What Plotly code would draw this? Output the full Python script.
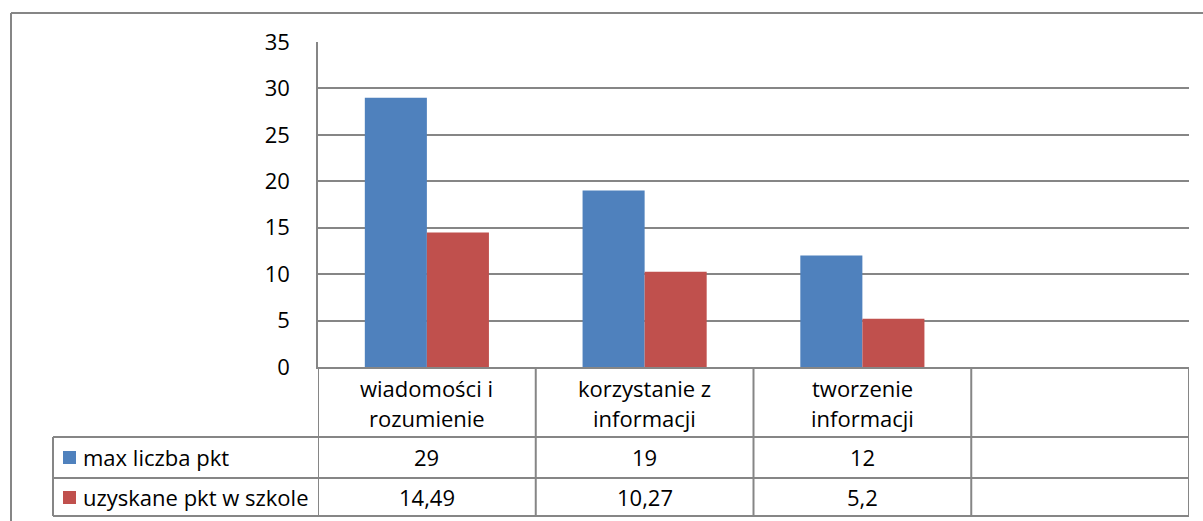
import plotly.graph_objects as go

# ---- data ----
categories = ["wiadomości i<br>rozumienie", "korzystanie z<br>informacji", "tworzenie<br>informacji", ""]
series_names = ["max liczba pkt", "uzyskane pkt w szkole"]
max_pts = [29, 19, 12]
school_pts = [14.49, 10.27, 5.2]
colors = ["#4F81BD", "#C0504D"]
y_ticks = [0, 5, 10, 15, 20, 25, 30, 35]

W, H = 1203, 521
PL, PR, PT, PB = 318, 1189, 42, 367  # plot area in pixels
GRID = "#868686"
FONT = "Open Sans"
FS = 22


def px(p):
    return (p - PL) / (PR - PL)


def py(p):
    return (PB - p) / (PB - PT)


xs = list(range(len(categories)))

fig = go.Figure()
for name, vals, col in zip(series_names, [max_pts, school_pts], colors):
    fig.add_trace(go.Bar(x=xs[:len(vals)], y=vals, name=name, marker=dict(color=col, line=dict(width=0)),
                         showlegend=False, hoverinfo="y"))

fig.update_layout(
    width=W, height=H,
    margin=dict(l=PL, r=W - PR, t=PT, b=H - PB, pad=0),
    paper_bgcolor="white", plot_bgcolor="white",
    barmode="group", bargap=0.43, bargroupgap=0,
    font=dict(family=FONT, size=FS, color="black"),
    xaxis=dict(range=[-0.5, len(categories) - 0.5], showticklabels=False, showgrid=False,
               zeroline=False, showline=True, linecolor=GRID, linewidth=2, ticks=""),
    yaxis=dict(range=[0, 35], tickvals=y_ticks, showgrid=True, gridcolor=GRID, gridwidth=1.5,
               zeroline=False, showline=True, linecolor=GRID, linewidth=1.5, ticks="",
               ticklabelstandoff=22, tickfont=dict(family=FONT, size=FS, color="black")),
)

shapes = []
line = dict(color=GRID, width=2)
# outer chart border (left and top visible)
shapes.append(dict(type="line", xref="paper", yref="paper", x0=px(11), x1=px(11), y0=py(H + 2), y1=py(13), line=line))
shapes.append(dict(type="line", xref="paper", yref="paper", x0=px(11), x1=px(W + 2), y0=py(13), y1=py(13), line=line))

# data table
row_lines = [437, 478, 516]
for i in range(len(categories) + 1):
    shapes.append(dict(type="line", xref="x", yref="paper", x0=i - 0.5, x1=i - 0.5,
                       y0=py(PB), y1=py(row_lines[-1]), line=line))
shapes.append(dict(type="line", xref="paper", yref="paper", x0=px(53), x1=px(53),
                   y0=py(row_lines[0]), y1=py(row_lines[-1]), line=line))
for r in row_lines:
    shapes.append(dict(type="line", xref="paper", yref="paper", x0=px(53), x1=1,
                       y0=py(r), y1=py(r), line=line))

annotations = []
# header labels
for i, cat in enumerate(categories):
    for j, part in enumerate(cat.split("<br>") if cat else []):
        annotations.append(dict(x=i, y=py(388 + 30 * j), xref="x", yref="paper", text=part,
                                showarrow=False, xanchor="center", yanchor="middle",
                                font=dict(family=FONT, size=FS, color="black")))

row_centers = [457, 497]
for name, vals, col, yc in zip(series_names, [max_pts, school_pts], colors, row_centers):
    shapes.append(dict(type="rect", xref="paper", yref="paper", x0=px(63), x1=px(76),
                       y0=py(yc + 7), y1=py(yc - 6), fillcolor=col, line=dict(width=0)))
    annotations.append(dict(x=px(81), y=py(yc), xref="paper", yref="paper", text=name, showarrow=False,
                            xanchor="left", yanchor="middle", font=dict(family=FONT, size=FS, color="black")))
    for i, v in enumerate(vals):
        annotations.append(dict(x=i, y=py(yc), xref="x", yref="paper", text=f"{v:g}".replace(".", ","),
                                showarrow=False, xanchor="center", yanchor="middle",
                                font=dict(family=FONT, size=FS, color="black")))

fig.update_layout(shapes=shapes, annotations=annotations)
fig.write_html("out.html")
